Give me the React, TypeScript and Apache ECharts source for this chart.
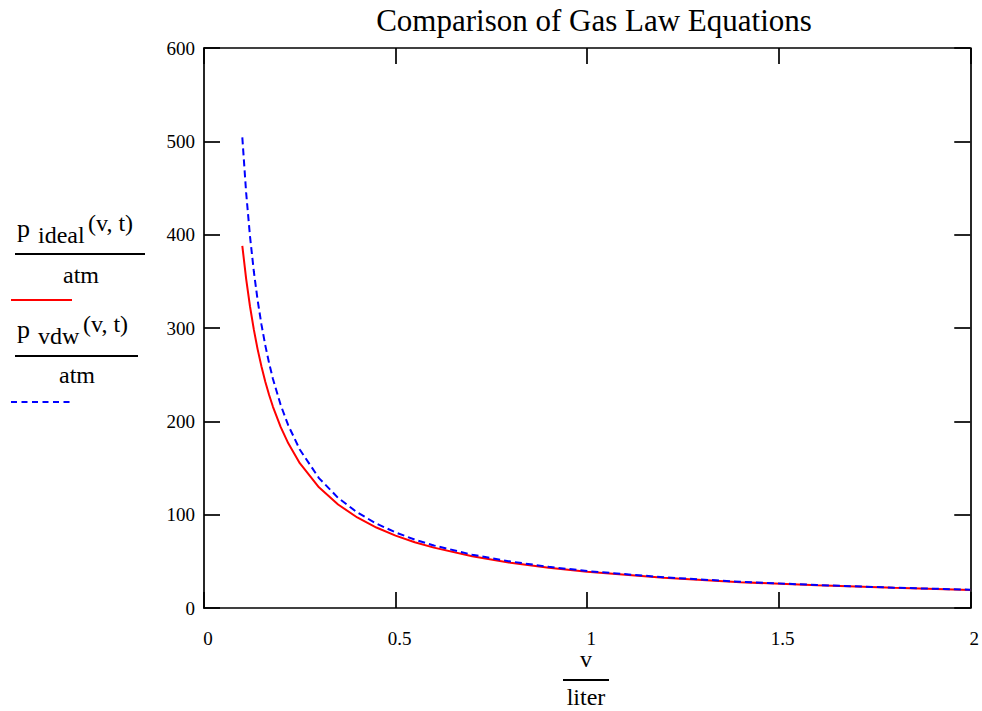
import React, { useEffect, useRef } from "react";
import * as echarts from "echarts";

const FONT = "Liberation Serif";

const titleText = "Comparison of Gas Law Equations";
const xTickMin = 0;
const xTickMax = 2;
const xTickStep = 0.5;
const yTickMin = 0;
const yTickMax = 600;
const yTickStep = 100;

// volume (liter)
const vValues = [
  0.1, 0.11, 0.12, 0.13, 0.14, 0.15, 0.16, 0.17, 0.18, 0.2, 0.22, 0.25, 0.3,
  0.35, 0.4, 0.45, 0.5, 0.55, 0.6, 0.7, 0.8, 0.9, 1.0, 1.2, 1.4, 1.6, 1.8, 2.0,
];
// p_ideal(v,t)/atm
const idealP = [
  388, 352.7, 323.3, 298.5, 277.1, 258.7, 242.5, 228.2, 215.6, 194, 176.4,
  155.2, 129.3, 110.9, 97, 86.2, 77.6, 70.5, 64.7, 55.4, 48.5, 43.1, 38.8,
  32.3, 27.7, 24.3, 21.6, 19.4,
];
// p_vdw(v,t)/atm
const vdwP = [
  504.2, 445.0, 398.5, 360.8, 329.7, 303.6, 281.4, 262.2, 245.4, 217.7, 195.6,
  169.8, 139.2, 118.0, 102.4, 90.4, 81.0, 73.3, 67.0, 57.1, 49.8, 44.1, 39.6,
  32.9, 28.1, 24.6, 21.8, 19.6,
];

export default function App() {
  const ref = useRef<HTMLDivElement>(null);

  useEffect(() => {
    if (!ref.current) return;
    const chart = echarts.init(ref.current, undefined, { renderer: "svg" });

    const mkAxisLine = () => ({
      show: true,
      onZero: false,
      lineStyle: { color: "#000", width: 1.7 },
    });
    const mkAxisTick = () => ({
      show: true,
      inside: true,
      length: 16,
      lineStyle: { color: "#000", width: 1.7 },
    });
    const labelStyle = { color: "#000", fontFamily: FONT, fontSize: 19 };

    const txt = (
      text: string,
      x: number,
      y: number,
      fontSize: number,
      align: string = "left"
    ) => ({
      type: "text",
      x,
      y,
      style: {
        text,
        fontSize,
        fontFamily: FONT,
        fill: "#000",
        align,
        verticalAlign: "middle",
      },
    });
    const ln = (
      x1: number,
      y1: number,
      x2: number,
      y2: number,
      stroke: string,
      lineWidth: number,
      lineDash?: number[]
    ) => ({
      type: "line",
      shape: { x1, y1, x2, y2 },
      style: { stroke, lineWidth, lineDash },
    });

    chart.setOption({
      animation: false,
      backgroundColor: "#fff",
      title: {
        text: titleText,
        left: 589,
        textAlign: "center",
        top: 0,
        textStyle: {
          fontFamily: FONT,
          fontSize: 31,
          fontWeight: "normal",
          color: "#000",
        },
      },
      grid: { left: 204, right: 11, top: 48, bottom: 103, containLabel: false },
      xAxis: [
        {
          type: "value",
          position: "bottom",
          min: xTickMin,
          max: xTickMax,
          interval: xTickStep,
          axisLine: mkAxisLine(),
          axisTick: mkAxisTick(),
          splitLine: { show: false },
          axisLabel: {
            ...labelStyle,
            margin: 21,
            padding: [0, 0, 0, 8],
            showMinLabel: true,
            showMaxLabel: true,
          },
        },
        {
          type: "value",
          position: "top",
          min: xTickMin,
          max: xTickMax,
          interval: xTickStep,
          axisLine: mkAxisLine(),
          axisTick: mkAxisTick(),
          splitLine: { show: false },
          axisLabel: { show: false },
        },
      ],
      yAxis: [
        {
          type: "value",
          position: "left",
          min: yTickMin,
          max: yTickMax,
          interval: yTickStep,
          axisLine: mkAxisLine(),
          axisTick: mkAxisTick(),
          splitLine: { show: false },
          axisLabel: { ...labelStyle, margin: 9 },
        },
        {
          type: "value",
          position: "right",
          min: yTickMin,
          max: yTickMax,
          interval: yTickStep,
          axisLine: mkAxisLine(),
          axisTick: mkAxisTick(),
          splitLine: { show: false },
          axisLabel: { show: false },
        },
      ],
      series: [
        {
          name: "p_ideal",
          type: "line",
          xAxisIndex: 0,
          yAxisIndex: 0,
          data: vValues.map((v, i) => [v, idealP[i]]),
          showSymbol: false,
          smooth: false,
          lineStyle: { color: "#ff0000", width: 2 },
          z: 2,
        },
        {
          name: "p_vdw",
          type: "line",
          xAxisIndex: 0,
          yAxisIndex: 0,
          data: vValues.map((v, i) => [v, vdwP[i]]),
          showSymbol: false,
          smooth: false,
          lineStyle: { color: "#0000ff", width: 2, type: [7, 4] },
          z: 3,
        },
      ],
      graphic: [
        // x-axis name: v / liter
        txt("v", 586, 659, 24, "center"),
        ln(563, 680, 609, 680, "#000", 2),
        txt("liter", 586, 697, 24, "center"),
        // legend entry 1
        txt("p", 17, 228.6, 26),
        txt("ideal", 38, 234.6, 24),
        txt("(v, t)", 88, 222.6, 24),
        ln(15, 254, 145, 254, "#000", 2),
        txt("atm", 81, 274.6, 24, "center"),
        ln(11, 300, 72, 300, "#ff0000", 2),
        // legend entry 2
        txt("p", 17, 329.6, 26),
        txt("vdw", 38, 335.6, 24),
        txt("(v, t)", 83, 323.6, 24),
        ln(15, 356, 138, 356, "#000", 2),
        txt("atm", 77, 375, 24, "center"),
        ln(11, 402, 72, 402, "#0000ff", 2, [6, 4.5]),
      ],
    });

    return () => chart.dispose();
  }, []);

  return (
    <div
      ref={ref}
      style={{ position: "fixed", left: 0, top: 0, width: 982, height: 711 }}
    />
  );
}
